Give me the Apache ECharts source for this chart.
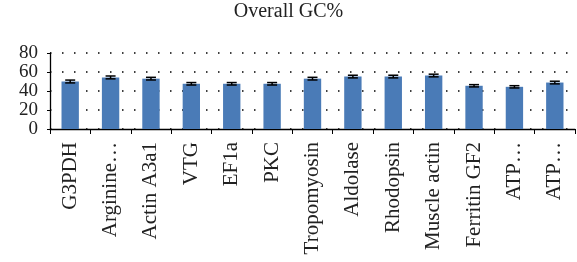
<!DOCTYPE html>
<html>
<head>
<meta charset="utf-8">
<script src="https://cdn.jsdelivr.net/npm/echarts@6/dist/echarts.min.js"></script>
<style>
  html, body { margin: 0; padding: 0; background: #fff; }
  #chart { width: 577px; height: 262px; }
</style>
</head>
<body>
<div id="chart"></div>
<script>
const genes = ['G3PDH', 'Arginine…', 'Actin A3a1', 'VTG', 'EF1a', 'PKC', 'Tropomyosin',
  'Aldolase', 'Rhodopsin', 'Muscle actin', 'Ferritin GF2', 'ATP…', 'ATP…']
const gcValues = [50.0, 54.3, 53.0, 47.6, 47.6, 47.6, 53.0, 55.2, 55.2, 56.3, 45.5, 44.4, 48.9]
const gcErrors = [1.5, 1.5, 1.4, 1.3, 1.3, 1.3, 1.4, 1.4, 1.4, 1.4, 1.2, 1.2, 1.4]
const yTicks = { min: 0, max: 80, interval: 20 }

const font = '"Liberation Serif", "DejaVu Serif", serif'
const chart = echarts.init(document.getElementById('chart'))

chart.setOption({
  animation: false,
  title: {
    text: 'Overall GC%', left: 'center', top: 2, padding: [0, 0, 0, 36],
    textStyle: { fontFamily: font, fontSize: 20, fontWeight: 'normal', color: '#222' },
  },
  grid: { left: 50, right: 2, top: 53, bottom: 133 },
  xAxis: {
    type: 'category',
    data: genes,
    axisLine: { lineStyle: { color: '#000', width: 1.3 } },
    axisTick: { show: true, length: 5, lineStyle: { color: '#000' } },
    axisLabel: {
      rotate: 90, interval: 0, margin: 13,
      fontFamily: font, fontSize: 21, color: '#222',
    },
  },
  yAxis: {
    type: 'value',
    min: yTicks.min, max: yTicks.max, interval: yTicks.interval,
    axisLine: { show: true, lineStyle: { color: '#000', width: 1.3 } },
    axisTick: { show: true, length: 3, lineStyle: { color: '#000' } },
    axisLabel: { fontFamily: font, fontSize: 19, color: '#222', margin: 12 },
    splitLine: { lineStyle: { color: '#000', type: [1.5, 10.5], width: 1.5 } },
  },
  series: [
    {
      type: 'bar',
      data: gcValues,
      barWidth: '43%',
      itemStyle: { color: '#4a7bb7' },
    },
    {
      type: 'custom',
      z: 10,
      data: gcValues.map((v, i) => [i, v - gcErrors[i], v + gcErrors[i]]),
      renderItem: (params, api) => {
        const lo = api.coord([api.value(0), api.value(1)])
        const hi = api.coord([api.value(0), api.value(2)])
        const half = 5
        const style = { stroke: '#000', lineWidth: 1.5 }
        return {
          type: 'group',
          children: [
            { type: 'line', shape: { x1: lo[0], y1: lo[1], x2: hi[0], y2: hi[1] }, style },
            { type: 'line', shape: { x1: lo[0] - half, y1: lo[1], x2: lo[0] + half, y2: lo[1] }, style },
            { type: 'line', shape: { x1: hi[0] - half, y1: hi[1], x2: hi[0] + half, y2: hi[1] }, style },
          ],
        }
      },
    },
  ],
})
</script>
</body>
</html>
